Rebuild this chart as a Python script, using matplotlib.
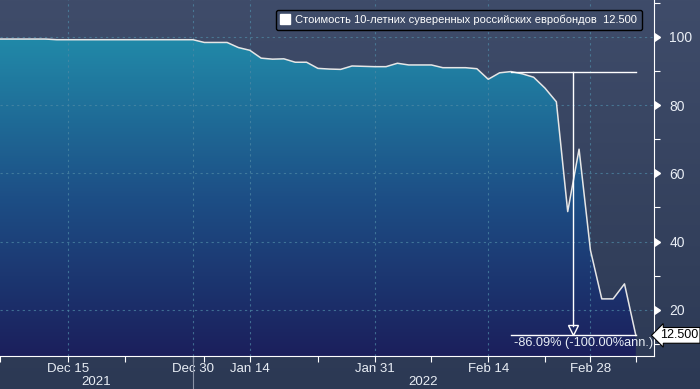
import numpy as np
import matplotlib.pyplot as plt
import matplotlib.transforms as mtransforms
from matplotlib.colors import LinearSegmentedColormap
from matplotlib.lines import Line2D

# price of 10y russian sovereign eurobonds, one value per trading day
prices = [99.4, 99.4, 99.4, 99.4, 99.4,
          99.2, 99.2, 99.2, 99.2, 99.2, 99.2, 99.2, 99.2, 99.2, 99.2, 99.2, 99.2, 99.2,
          98.4, 98.4, 98.4, 96.9, 96.1, 93.8, 93.5, 93.6, 92.6, 92.6, 90.8, 90.6,
          90.5, 91.5, 91.4, 91.3, 91.3, 92.3, 91.8, 91.8, 91.8, 91.0, 91.0, 91.0,
          90.7, 87.6, 89.5, 89.86, 89.2, 88.2, 85.0, 81.0, 48.8, 67.1, 37.5,
          23.2, 23.2, 27.6, 12.5]

tick_pos = [6, 17, 22, 33, 43, 52]
tick_labels = ["Dec 15", "Dec 30", "Jan 14", "Jan 31", "Feb 14", "Feb 28"]
minor_pos = [0, 11, 18, 28, 38, 48, 56]
year_labels = ["2021", "2022"]
year_break = 17
y_ticks = [20, 40, 60, 80, 100]

legend_text = "Стоимость 10-летних суверенных российских евробондов  12.500"
change_text = "-86.09% (-100.00%ann.)"
start_i, end_i = 45, 56

plt.rcParams['font.family'] = ['Liberation Sans', 'DejaVu Sans']
txt = '#e9eef5'

fig = plt.figure(figsize=(7, 3.89), dpi=100)

# background gradient over the whole figure
bg = fig.add_axes([0, 0, 1, 1], zorder=-5)
bg_cmap = LinearSegmentedColormap.from_list('bg', ['#2c3954', '#3f4c6a'])
bg.imshow(np.linspace(0, 1, 256).reshape(-1, 1), cmap=bg_cmap, aspect='auto',
          origin='lower', extent=[0, 1, 0, 1])
bg.axis('off')

ax = fig.add_axes([0, 33 / 389, 654 / 700, 356 / 389])
ax.patch.set_alpha(0)

x = np.arange(len(prices))
ymin, ymax = 6.45, 110.85

# gradient fill under the line
fill = ax.fill_between(x, prices, ymin, color='none', lw=0)
fill_cmap = LinearSegmentedColormap.from_list('fill', ['#1b1f5c', '#1d4f86', '#218aa9'])
im = ax.imshow(np.linspace(0, 1, 256).reshape(-1, 1), cmap=fill_cmap, aspect='auto',
               origin='lower', extent=[0, len(prices) - 1, ymin, 100], zorder=1)
im.set_clip_path(fill.get_paths()[0], transform=ax.transData)

ax.plot(x, prices, color='#e6e6e6', lw=1.1, zorder=3)

ax.set_xlim(0, 57.6)
ax.set_ylim(ymin, ymax)

# grid
for p in tick_pos:
    ax.axvline(p, color='#4f8aa6', lw=0.8, ls=(0, (2, 3)), alpha=0.7, zorder=2)
for v in y_ticks:
    ax.axhline(v, color='#4f8aa6', lw=0.8, ls=(0, (2, 3)), alpha=0.7, zorder=2)

# spines
for s in ['top', 'left']:
    ax.spines[s].set_visible(False)
ax.spines['bottom'].set_color('white')
ax.spines['right'].set_color('white')

# x axis
ax.set_xticks(tick_pos)
ax.set_xticklabels(tick_labels)
ax.set_xticks(minor_pos, minor=True)
ax.tick_params(axis='x', which='both', colors='white', length=4, width=0.8,
               labelcolor=txt, labelsize=9.5, pad=1)

yr_trans = mtransforms.blended_transform_factory(ax.transData, ax.transAxes)
ax.text(year_break / 2, -0.073, year_labels[0], transform=yr_trans, ha='center', va='center',
        color=txt, fontsize=9.5)
ax.text((year_break + 57.6) / 2, -0.073, year_labels[1], transform=yr_trans, ha='center',
        va='center', color=txt, fontsize=9.5)
ax.plot([year_break, year_break], [0, -0.1], transform=yr_trans, color='#8a93a6', lw=0.8,
        clip_on=False)

# y axis on the right
ax.yaxis.tick_right()
ax.set_yticks(y_ticks)
ax.set_yticks([10, 30, 50, 70, 90, 110], minor=True)
ax.tick_params(axis='y', which='major', length=0, pad=11, labelcolor=txt, labelsize=10)
ax.tick_params(axis='y', which='minor', length=4, width=0.8, colors='white')
rt = mtransforms.blended_transform_factory(ax.transAxes, ax.transData)
ax.plot([1] * len(y_ticks), y_ticks, transform=rt, ls='none', marker=9, ms=6,
        color='white', clip_on=False, zorder=5)

# last price box
ax.text(1.009, prices[-1], "12.500", transform=rt, ha='left', va='center', color='black',
        fontsize=9, zorder=6,
        bbox=dict(boxstyle='larrow,pad=0.15', fc='white', ec='black', lw=0.8))

# change annotation
top = prices[start_i]
ax.plot([start_i, end_i], [top, top], color='white', lw=1, zorder=4)
ax.plot([start_i, end_i], [prices[-1], prices[-1]], color='white', lw=1, zorder=4)
mid = (start_i + end_i) / 2
ax.plot([mid, mid], [top, prices[-1] + 2.8], color='white', lw=1, zorder=4)
ax.plot(mid, prices[-1] + 1.45, marker='v', ms=7, mfc='none', mec='white', mew=1, zorder=4)
ax.text(start_i + 0.3, 10.2, change_text, color=txt, fontsize=9.2, ha='left', va='center',
        zorder=5)

leg = ax.legend(handles=[Line2D([], [], ls='none', marker='s', ms=7, mfc='white', mec='white')],
                labels=[legend_text], loc='upper right', bbox_to_anchor=(0.99, 0.988),
                frameon=True, facecolor='#3e4b68', edgecolor='black', framealpha=1,
                labelcolor='white', fontsize=8, handlelength=0.8, handletextpad=0.5,
                borderpad=0.45, fancybox=True)
leg.get_frame().set_linewidth(1)

fig.savefig('out.png', dpi=100)
